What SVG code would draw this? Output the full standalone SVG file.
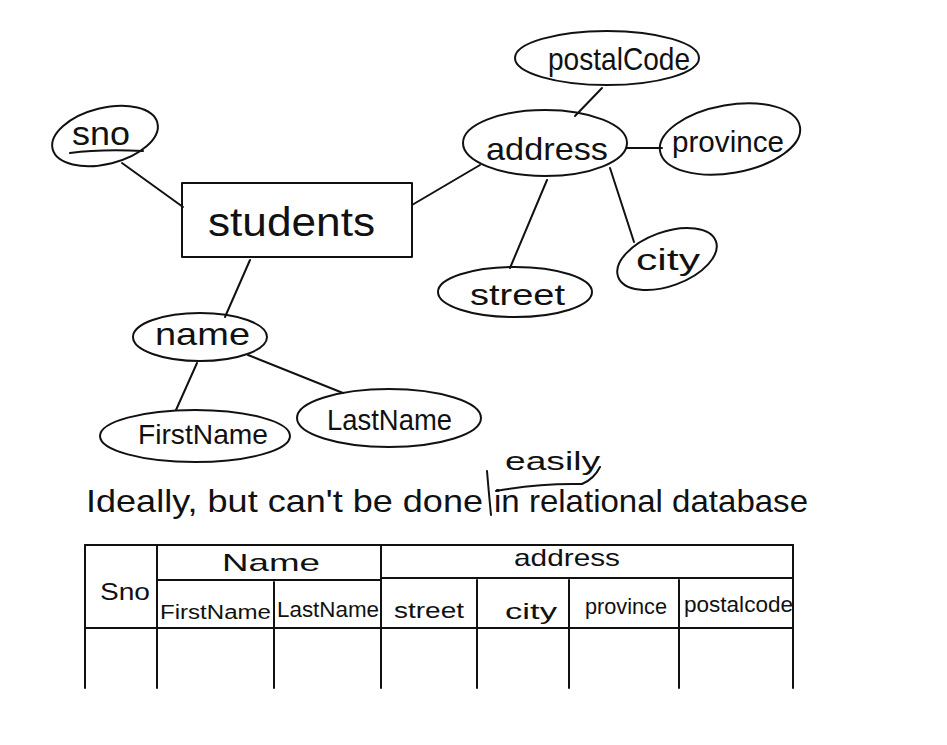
<svg xmlns="http://www.w3.org/2000/svg" width="947" height="745" viewBox="0 0 947 745">
<style>
.s{fill:none;stroke:#111;stroke-width:2;stroke-linecap:round;stroke-linejoin:round}
text{font-family:"Liberation Sans",Arial,sans-serif;fill:#111;lengthAdjust:spacingAndGlyphs}
.t{text-anchor:start}
</style>
<rect width="947" height="745" fill="#fff"/>
<g id="connectors" class="s">
<line x1="122" y1="163" x2="183" y2="207"/>
<line x1="412" y1="205" x2="480" y2="165"/>
<line x1="250" y1="260" x2="225" y2="317"/>
<line x1="575" y1="116" x2="602" y2="88"/>
<line x1="627" y1="148" x2="662" y2="148"/>
<line x1="610" y1="168" x2="634" y2="242"/>
<line x1="547" y1="180" x2="510" y2="268"/>
<line x1="197" y1="363" x2="176" y2="410"/>
<line x1="248" y1="355" x2="343" y2="393"/>
</g>
<g id="students">
<rect class="s" x="182" y="183" width="230" height="74"/>
<text x="208" y="236" font-size="40" textLength="167" lengthAdjust="spacingAndGlyphs">students</text>
</g>
<g id="sno">
<ellipse class="s" cx="105" cy="136" rx="54" ry="28" transform="rotate(-14 105 136)"/>
<text x="72" y="145" font-size="34" textLength="58" lengthAdjust="spacingAndGlyphs">sno</text>
<path class="s" d="M70,153 Q100,149 143,151"/>
</g>
<g id="address">
<ellipse class="s" cx="545" cy="143" rx="82" ry="33"/>
<text x="486" y="160" font-size="32" textLength="122" lengthAdjust="spacingAndGlyphs">address</text>
</g>
<g id="postalCode">
<ellipse class="s" cx="607" cy="58" rx="92" ry="27"/>
<text x="548" y="70" font-size="32" textLength="142" lengthAdjust="spacingAndGlyphs">postalCode</text>
</g>
<g id="province">
<ellipse class="s" cx="730" cy="139" rx="71" ry="34" transform="rotate(-10 730 139)"/>
<text x="672" y="152" font-size="30" textLength="112" lengthAdjust="spacingAndGlyphs">province</text>
</g>
<g id="city">
<ellipse class="s" cx="667" cy="259" rx="52" ry="27" transform="rotate(-20 667 259)"/>
<text x="636" y="270" font-size="30" textLength="64" lengthAdjust="spacingAndGlyphs">city</text>
</g>
<g id="street">
<ellipse class="s" cx="515" cy="292" rx="77" ry="25"/>
<text x="470" y="305" font-size="30" textLength="95" lengthAdjust="spacingAndGlyphs">street</text>
</g>
<g id="name">
<ellipse class="s" cx="200" cy="337" rx="67" ry="24"/>
<text x="155" y="345" font-size="32" textLength="95" lengthAdjust="spacingAndGlyphs">name</text>
</g>
<g id="FirstName">
<ellipse class="s" cx="195" cy="436" rx="95" ry="26"/>
<text x="138" y="444" font-size="28" textLength="130" lengthAdjust="spacingAndGlyphs">FirstName</text>
</g>
<g id="LastName">
<ellipse class="s" cx="389" cy="418" rx="92" ry="29"/>
<text x="327" y="430" font-size="30" textLength="125" lengthAdjust="spacingAndGlyphs">LastName</text>
</g>
<g id="note">
<text x="86" y="512" font-size="32" textLength="397" lengthAdjust="spacingAndGlyphs">Ideally, but can't be done</text>
<text x="494" y="512" font-size="32" textLength="314" lengthAdjust="spacingAndGlyphs">in relational database</text>
<text x="505" y="470" font-size="26" textLength="95" lengthAdjust="spacingAndGlyphs">easily</text>
<path class="s" d="M487,471 Q489,495 491,515"/>
<path class="s" d="M496,491 Q540,483 582,484 Q594,479 600,467"/>
</g>
<g id="table">
<g class="s">
<line x1="85" y1="545" x2="793" y2="545"/>
<line x1="157" y1="580" x2="381" y2="580"/>
<line x1="381" y1="578" x2="793" y2="578"/>
<line x1="85" y1="628" x2="793" y2="628"/>
<line x1="85" y1="545" x2="85" y2="688"/>
<line x1="157" y1="545" x2="157" y2="688"/>
<line x1="381" y1="545" x2="381" y2="688"/>
<line x1="793" y1="545" x2="793" y2="688"/>
<line x1="274" y1="582" x2="274" y2="688"/>
<line x1="477" y1="580" x2="477" y2="688"/>
<line x1="569" y1="580" x2="569" y2="688"/>
<line x1="679" y1="580" x2="679" y2="688"/>
</g>
<text x="100" y="600" font-size="24" textLength="50" lengthAdjust="spacingAndGlyphs">Sno</text>
<text x="222" y="571" font-size="24" textLength="98" lengthAdjust="spacingAndGlyphs">Name</text>
<text x="514" y="566" font-size="24" textLength="106" lengthAdjust="spacingAndGlyphs">address</text>
<text x="160" y="619" font-size="20" textLength="111" lengthAdjust="spacingAndGlyphs">FirstName</text>
<text x="277" y="617" font-size="22" textLength="102" lengthAdjust="spacingAndGlyphs">LastName</text>
<text x="394" y="618" font-size="22" textLength="70" lengthAdjust="spacingAndGlyphs">street</text>
<text x="505" y="619" font-size="22" textLength="52" lengthAdjust="spacingAndGlyphs">city</text>
<text x="585" y="614" font-size="22" textLength="82" lengthAdjust="spacingAndGlyphs">province</text>
<text x="684" y="612" font-size="22" textLength="109" lengthAdjust="spacingAndGlyphs">postalcode</text>
</g>
</svg>
